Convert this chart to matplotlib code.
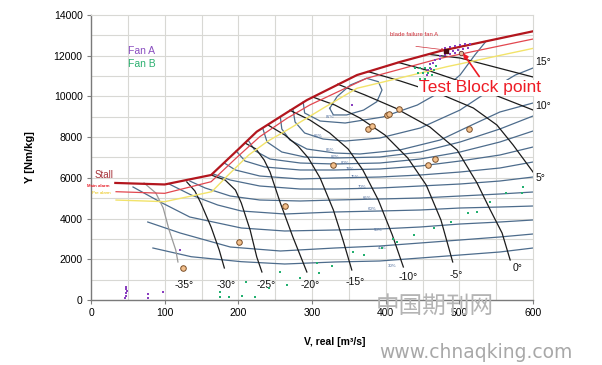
import matplotlib
matplotlib.use("Agg")
import matplotlib.pyplot as plt
import numpy as np

plt.rcParams['font.family'] = ['Liberation Sans', 'DejaVu Sans']

# ---------------- data (V [m3/s], Y [Nm/kg]) ----------------
stall_x = [33, 100, 163, 199, 225, 266, 293, 361, 420, 474, 600]
stall_y = [5750, 5675, 6140, 7370, 8270, 9210, 9820, 11050, 11700, 12230, 13200]
main_alarm_x = [34, 100, 163, 199, 229, 266, 297, 374, 474, 600]
main_alarm_y = [5320, 5240, 5810, 7040, 8020, 8925, 9580, 10890, 11870, 12820]
pre_alarm_x = [34, 100, 164, 184, 214, 239, 270, 315, 361, 483, 600]
pre_alarm_y = [4910, 4830, 5320, 6060, 7120, 7780, 8430, 9420, 10400, 11460, 12360]

# efficiency iso-lines
eff_labels = ["30%", "40%", "50%", "60%", "65%", "70%", "75%", "78%", "80%", "82%", "85%", "86%", "87%"]
eff_x = [
    [84, 136, 204, 263, 331, 392, 447, 501, 555, 600],
    [77, 121, 189, 257, 331, 392, 447, 501, 555, 600],
    [57, 94, 134, 204, 263, 331, 392, 447, 501, 555, 600],
    [106, 136, 172, 204, 263, 331, 392, 447, 501, 555, 600],
    [134, 155, 189, 229, 284, 331, 392, 447, 501, 555, 600],
    [166, 189, 229, 284, 331, 392, 447, 501, 555, 600],
    [181, 196, 229, 284, 331, 392, 447, 501, 555, 600],
    [197, 209, 236, 284, 331, 392, 447, 501, 555, 600],
    [214, 223, 243, 284, 331, 392, 447, 501, 555, 600],
    [233, 239, 259, 290, 331, 392, 447, 501, 555, 600],
    [257, 259, 270, 293, 331, 365, 419, 474, 514, 555, 600],
    [274, 277, 290, 315, 345, 392, 447, 501, 542, 576, 600],
    [288, 290, 311, 345, 396, 443, 474, 501, 521, 536],
]
eff_y = [
    [2554, 2126, 1882, 1768, 1867, 1916, 2063, 2210, 2358, 2554],
    [3831, 3291, 2603, 2407, 2554, 2652, 2800, 2947, 3095, 3242],
    [5551, 4814, 4077, 3537, 3389, 3438, 3488, 3586, 3733, 3831, 3930],
    [5698, 5158, 4666, 4372, 4224, 4323, 4372, 4421, 4519, 4568, 4617],
    [5845, 5501, 5108, 4912, 4863, 4912, 4961, 5010, 5108, 5207, 5305],
    [6189, 5894, 5600, 5452, 5452, 5501, 5600, 5698, 5845, 6042],
    [6729, 6386, 6091, 5944, 5993, 6042, 6140, 6287, 6484, 6779],
    [7319, 6828, 6533, 6386, 6386, 6435, 6582, 6828, 7122, 7515],
    [7810, 7319, 6926, 6729, 6680, 6729, 6926, 7270, 7761, 8301],
    [8449, 7761, 7270, 7024, 6975, 7024, 7270, 7761, 8400, 9038],
    [8989, 8400, 7859, 7417, 7221, 7172, 7368, 7859, 8547, 9235, 9677],
    [9382, 8743, 8203, 7908, 7810, 7957, 8449, 9333, 10315, 11052, 11396],
    [9726, 9185, 8792, 8694, 8989, 9578, 10217, 11052, 12034, 12700],
]
eff_label_x = [409, 395, 390, 381, 375, 368, 358, 352, 345, 331, 324, 308, 324]
eff_label_y = [1670, 2554, 3438, 4470, 5010, 5551, 6042, 6435, 6729, 7024, 7368, 8056, 8989]
peak_x = [324, 334, 352, 374, 390, 395, 388, 370, 347, 329, 324]
peak_y = [9415, 9990, 10560, 10890, 10725, 10315, 9740, 9330, 9090, 9090, 9415]

# blade angle characteristics
angle_labels = ["-35°", "-30°", "-25°", "-20°", "-15°", "-10°", "-5°", "0°", "5°", "10°", "15°"]
angle_x = [
    [72, 88, 98, 106, 115, 118],
    [130, 141, 149, 163, 174, 181],
    [163, 182, 196, 204, 216, 225, 232],
    [209, 224, 235, 243, 257, 274, 293],
    [240, 263, 281, 295, 311, 329, 342, 354],
    [270, 297, 324, 349, 369, 390, 409, 424],
    [301, 331, 365, 399, 430, 455, 475, 491],
    [335, 372, 413, 460, 497, 524, 542, 558, 569],
    [376, 420, 474, 519, 551, 573, 600],
    [417, 460, 508, 555, 600],
    [458, 501, 548, 600],
]
angle_y = [
    [5747, 5256, 4519, 3438, 2456, 1867],
    [5800, 5354, 4765, 3586, 2456, 1572],
    [6140, 5894, 5403, 4765, 3438, 2112, 1375],
    [7712, 7417, 6877, 6287, 4765, 3095, 1375],
    [8600, 8105, 7564, 6975, 5993, 4421, 2947, 1474],
    [9320, 8842, 8203, 7417, 6386, 4912, 3193, 1621],
    [9970, 9578, 8940, 8105, 6975, 5649, 3930, 1867],
    [10600, 10070, 9431, 8498, 7368, 5747, 4421, 3291, 1965],
    [11220, 10757, 10119, 9431, 8596, 7614, 6287],
    [11670, 11249, 10659, 9971, 9333],
    [12070, 11887, 11445, 10954],
]
angle_label_x = [126, 184, 238, 297, 358, 431, 496, 579, 603, 603, 603]
angle_label_y = [736, 736, 736, 736, 870, 1113, 1228, 1556, 5990, 9530, 11690]

# measured operating points
op_x = [125, 201, 264, 328, 376, 382, 402, 405, 418, 457, 467, 513]
op_y = [1557, 2864, 4632, 6631, 8400, 8547, 9087, 9136, 9367, 6631, 6926, 8400]
test_block_x = [502]
test_block_y = [12118]
blade_fail_x = [482]
blade_fail_y = [12246]

fanA_x = [46, 48, 47, 49, 47, 48, 77, 77, 98, 121, 354,
          481, 487, 494, 501, 508, 515, 485, 491, 498, 505, 512,
          474, 481, 487, 494, 467, 474, 460, 464, 458, 462, 456]
fanA_y = [80, 200, 320, 440, 560, 640, 120, 270, 410, 2460, 9580,
          12378, 12427, 12476, 12526, 12575, 12575, 12182, 12231, 12280, 12329, 12378,
          11985, 12034, 12083, 12133, 11789, 11838, 11592, 11641, 11298, 11347, 11052]
fanB_x = [175, 175, 187, 205, 210, 223, 241, 257, 266, 284, 307, 309, 327, 356, 370,
          395, 410, 415, 438, 465, 489, 512, 524, 542, 564, 585, 587,
          440, 447, 453, 460, 444, 451, 458, 447, 453, 451, 456, 463, 466, 468]
fanB_y = [410, 160, 160, 190, 880, 160, 575, 1390, 760, 1066, 1820, 1340, 1670, 2370, 2210,
          2540, 2980, 2860, 3190, 3520, 3850, 4260, 4340, 4800, 5240, 5240, 5560,
          11396, 11396, 11396, 11421, 11150, 11150, 11175, 10856, 10856, 10561, 10561, 11052, 11298, 11494]

x_ticks = [0, 100, 200, 300, 400, 500, 600]
y_ticks = [0, 2000, 4000, 6000, 8000, 10000, 12000, 14000]

# ---------------- figure ----------------
fig = plt.figure(figsize=(6.02, 3.65), dpi=100)
ax = fig.add_axes([0.1512, 0.1781, 0.7342, 0.7808])
ax.set_xlim(0, 600)
ax.set_ylim(0, 14000)

for v in np.arange(50, 600, 50):
    ax.axvline(v, color='#d8d8d4', lw=0.8, zorder=0)
for v in np.arange(1000, 14000, 1000):
    ax.axhline(v, color='#d8d8d4', lw=0.8, zorder=0)

blue = '#4d6c8c'
for xs, ys in zip(eff_x, eff_y):
    ax.plot(xs, ys, color=blue, lw=0.9, zorder=2, solid_joinstyle='round')
ax.plot(peak_x, peak_y, color=blue, lw=0.9, zorder=2)
for t, lx, ly in zip(eff_labels, eff_label_x, eff_label_y):
    ax.text(lx, ly, t, fontsize=3.2, color='#4d6c9c', ha='center', va='center', zorder=3)

for i, (xs, ys) in enumerate(zip(angle_x, angle_y)):
    ax.plot(xs, ys, color='#9a9a9a' if i == 0 else '#1c1c1c', lw=0.9, zorder=3,
            solid_joinstyle='round')
for i, (t, lx, ly) in enumerate(zip(angle_labels, angle_label_x, angle_label_y)):
    ax.text(lx, ly, t, fontsize=7.5, ha='left' if i >= 8 else 'center', va='center',
            color='#111111', clip_on=False, zorder=5)

ax.plot(pre_alarm_x, pre_alarm_y, color='#f2e36a', lw=1.0, zorder=4)
ax.plot(main_alarm_x, main_alarm_y, color='#e2474f', lw=0.9, zorder=4)
ax.plot(stall_x, stall_y, color='#b3161e', lw=1.6, zorder=4)

ax.scatter(fanB_x, fanB_y, s=2.2, color='#23b070', marker='s', linewidths=0, zorder=5)
ax.scatter(fanA_x, fanA_y, s=2.2, color='#8a3fc0', marker='s', linewidths=0, zorder=5)
ax.scatter(op_x, op_y, s=16, facecolor='#f3c08c', edgecolor='#7a4f28', linewidths=0.7, zorder=6)
ax.scatter(test_block_x, test_block_y, s=10, facecolor='#e8c0a0', edgecolor='#6b2b2b', linewidths=0.6, zorder=6)
ax.scatter(blade_fail_x, blade_fail_y, s=10, color='#4a0a10', marker='s', zorder=7)

ax.text(438, 13020, 'blade failure fan A', fontsize=4.3, color='#d0303a', ha='center', va='center', zorder=8)
ax.annotate('', xy=(blade_fail_x[0] - 2, blade_fail_y[0] + 40), xytext=(441, 12460),
            arrowprops=dict(arrowstyle='-|>', color='#d0303a', lw=0.5, mutation_scale=4,
                            shrinkA=0, shrinkB=0), zorder=8)
ax.annotate('', xy=(505, 12120), xytext=(527, 10980),
            arrowprops=dict(arrowstyle='-|>', color='#ee1c25', lw=1.2, mutation_scale=7,
                            shrinkA=0, shrinkB=0), zorder=8)
ax.text(445, 10420, 'Test Block point', fontsize=12.5, color='#ee1c25', ha='left', va='center',
        clip_on=False, zorder=9,
        bbox=dict(facecolor='white', edgecolor='none', pad=0.3))

ax.text(50, 12250, 'Fan A', fontsize=7.5, color='#8a4fc0', ha='left', va='center')
ax.text(50, 11580, 'Fan B', fontsize=7.5, color='#2cb070', ha='left', va='center')
ax.text(5, 6140, 'Stall', fontsize=7, color='#a6343a', ha='left', va='center')
ax.text(-6, 5600, 'Main alarm', fontsize=3.2, color='#e8202a', ha='left', va='center',
        fontweight='bold', clip_on=False)
ax.text(1, 5260, 'Pre alarm', fontsize=3.2, color='#e8c000', ha='left', va='center', clip_on=False)

ax.set_xticks(x_ticks)
ax.set_yticks(y_ticks)
ax.set_xticklabels([str(v) for v in x_ticks], fontsize=7.5)
ax.set_yticklabels([str(v) for v in y_ticks], fontsize=7.5)
ax.tick_params(axis='both', length=3, width=0.8, color='#808080', pad=3)
for s in ['left', 'bottom']:
    ax.spines[s].set_color('#7a7a7a')
    ax.spines[s].set_linewidth(1.0)
for s in ['top', 'right']:
    ax.spines[s].set_color('#d8d8d4')
    ax.spines[s].set_linewidth(0.8)

fig.text(0.05, 0.57, 'Y [Nm/kg]', rotation=90, fontsize=8, fontweight='bold', ha='center', va='center')
fig.text(0.5565, 0.063, 'V, real [m³/s]', fontsize=7.5, fontweight='bold', ha='center', va='center')

fig.text(0.722, 0.162, '中国期刊网', fontsize=17, color='#b4b4b4', ha='center', va='center',
         family=['Noto Sans CJK SC', 'DejaVu Sans'], zorder=10)
fig.text(0.79, 0.035, 'www.chnaqking.com', fontsize=13.5, color='#a8a8a8', ha='center', va='center',
         family=['DejaVu Sans'], zorder=10)

fig.savefig('out.png', dpi=100)
